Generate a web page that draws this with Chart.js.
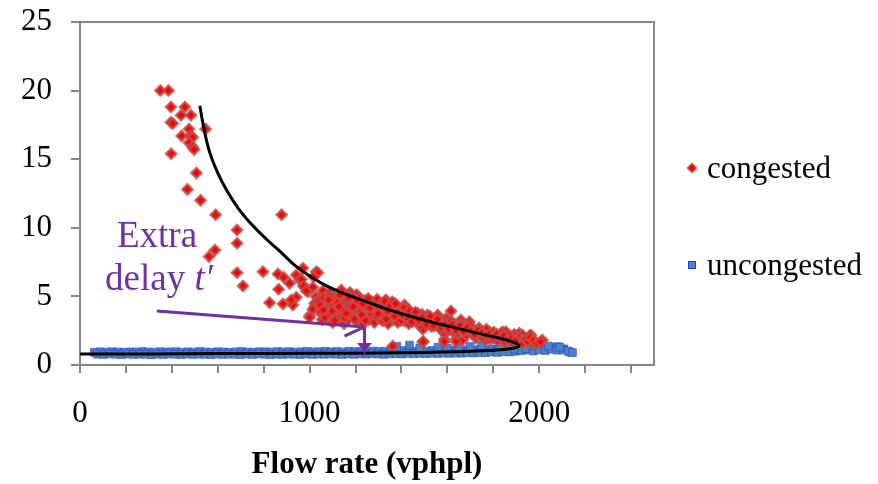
<!DOCTYPE html>
<html><head><meta charset="utf-8">
<script src="https://cdn.jsdelivr.net/npm/chart.js@4.4.1/dist/chart.umd.min.js"></script>
<style>html,body{margin:0;padding:0;background:#fff}#wrap{width:878px;height:484px;position:relative}</style>
</head><body><div id="wrap"><canvas id="c" width="878" height="484"></canvas></div>
<script>
// ---- data: [flow (vphpl), delay] ----
const seriesNames = ['congested', 'uncongested'];
const xTickLabels = ['0', '1000', '2000'];
const yTickValues = [0, 5, 10, 15, 20, 25];
const annotationText = ['Extra', 'delay ', 't\u2032'];

const congested = [
 [350,20.0],[385,20.0],[396,18.8],[457,18.8],[440,18.2],[483,18.2],[396,17.7],[404,17.6],[475,17.2],[547,17.2],
 [443,16.7],[481,16.7],[491,16.6],[475,16.2],[490,15.9],[497,15.7],[397,15.4],[507,14.0],[468,12.8],[525,12.0],
 [591,10.95],[878,10.95],[684,9.84],[684,8.87],[588,8.38],[562,7.9],[684,6.73],[797,6.8],[710,5.76],[862,6.63],
 [887,6.39],[913,5.95],[865,5.52],[971,7.05],[1029,6.8],[942,6.56],[957,6.2],[978,5.66],[993,5.34],[826,4.54],
 [884,4.45],[927,4.37],[942,4.93],[920,4.74],[1022,4.25],[1000,3.6],[1029,4.98],[1057,3.89],[1036,6.73],[1017,6.44],
 [964,6.25],[974,5.76],[1014,5.66],[986,5.42],[1058,5.42],[1087,5.27],[1138,5.47],[1177,5.27],[1207,5.1],[1043,4.86],
 [1101,4.98],[1022,4.5],[1051,4.13],[1014,4.06],[1000,3.47],[1051,3.72],[1297,4.61],[1333,4.74],[1370,4.45],[1413,4.37],
 [1261,4.37],[1362,1.38],[1174,5.23],[1203,5.1],[1471,3.77],[1558,3.64],[1616,3.94],[1659,3.28],[1696,3.16],[1493,2.6],
 [1587,1.87],[1638,1.87],[1754,2.43],[1841,2.43],[1913,2.31],[1957,2.11],[2014,1.82],[1493,1.7],[1391,3.77],[1514,3.64],
 [1594,3.4],[1572,2.92],[1609,2.79],[1667,2.67],[1587,2.31],[1630,2.31],[1783,2.43],[1855,2.43],[1891,2.24],[1927,2.19],
 [1964,2.19],[1725,1.95],[1768,1.82],[1797,1.95],[1840,1.82],[1899,1.82],[1935,1.7],[1971,1.58],[1667,1.82],[1638,1.7],
 [1587,1.7],[1496,1.7],
 [1040,4.6],[1048,3.9],[1055,3.3],[1062,4.9],[1070,4.2],[1078,3.6],[1085,5.0],[1092,4.4],[1100,3.1],[1105,3.8],
 [1112,4.7],[1118,4.1],[1125,3.4],[1132,5.1],[1138,4.5],[1145,3.7],[1150,3.0],[1156,4.0],[1162,4.8],[1168,3.3],
 [1175,4.3],[1180,3.6],[1186,5.0],[1192,4.6],[1198,3.9],[1204,3.2],[1210,4.4],[1216,4.9],[1222,3.5],[1228,4.1],
 [1234,3.0],[1240,4.7],[1246,3.8],[1252,4.3],[1258,3.3],[1264,4.0],[1270,4.6],[1276,3.6],[1282,3.1],[1288,4.2],
 [1294,4.8],[1300,3.4],[1306,3.9],[1312,4.5],[1318,3.2],[1324,4.1],[1330,3.7],[1336,4.4],[1342,3.0],[1348,3.5],
 [1354,4.0],[1360,4.6],[1366,3.3],[1372,3.8],[1378,4.2],[1384,3.1],[1390,3.6],[1396,4.0],[1402,3.4],[1408,3.9],
 [1414,3.2],[1420,3.7],[1426,4.1],[1432,3.0],[1438,3.5],[1444,3.8],[1450,3.3],[1458,3.6],[1466,3.1],[1474,3.4],
 [1482,2.9],[1490,3.7],[1498,3.2],[1506,3.5],[1514,3.0],[1522,3.3],[1530,2.8],[1538,3.1],[1546,3.4],[1554,2.9],
 [1562,3.2],[1570,2.6],[1578,3.0],[1586,2.7],[1594,3.1],[1602,2.5],[1610,2.9],[1618,3.2],[1626,2.6],[1634,2.9],
 [1642,2.3],[1650,2.7],[1658,3.0],[1666,2.4],[1674,2.8],[1682,2.2],[1690,2.6],[1698,2.9],[1706,2.3],[1714,2.5],
 [1722,2.1],[1730,2.4],[1738,2.7],[1746,2.2],[1754,2.0],[1762,2.3],[1770,2.6],[1778,2.1],[1786,1.9],[1794,2.2],
 [1802,2.4],[1810,2.0],[1818,1.8],[1826,2.1],[1834,2.3],[1842,1.9],[1850,1.7],[1858,2.0],[1866,2.2],[1874,1.8],
 [1882,1.6],[1890,1.9],[1898,2.1],[1906,1.7],[1914,2.0],[1922,1.8],[1930,1.6],[1940,1.9],[1950,1.7],[1960,2.0],
 [1975,1.8],[1990,1.6],[2005,1.7],
 [1046,4.35],[1066,3.45],[1083,4.75],[1097,3.95],[1109,3.25],[1121,4.55],[1141,4.05],[1153,3.45],[1171,4.95],[1184,4.15],
 [1195,3.35],[1207,4.65],[1219,3.85],[1231,4.45],[1243,3.25],[1255,4.85],[1267,3.75],[1279,4.35],[1291,3.55],[1303,4.15],
 [1315,3.65],[1327,4.65],[1339,3.85],[1351,4.35],[1363,3.55],[1375,4.45],[1387,3.85],[1399,3.25],[1411,4.15],[1423,3.45],
 [1435,3.95],[1447,3.15],[1461,3.85],[1477,3.25],[1493,3.45],[1509,2.95],[1525,3.55],[1541,2.85],[1557,3.35],[1575,2.75],
 [1590,2.95],[1606,2.65],[1622,2.95],[1638,2.55],[1655,2.85],[1671,2.45],[1687,2.75],[1703,2.45],[1719,2.25],[1735,2.55],
 [1751,2.35],[1767,2.15],[1783,2.25],[1799,2.05],[1815,2.25],[1831,1.95],[1847,2.15],[1863,1.85],[1879,1.95],[1895,1.75],
 [1128,4.25],[1160,3.75],[1190,4.25],[1226,3.65],[1262,4.15],[1298,3.75],[1334,3.35],[1370,3.55],[1404,3.65],[1060,4.0]
];

const uncongested = [
 [62,0.93],[88,0.96],[115,0.94],[140,0.97],[168,0.95],[193,0.92],[220,0.96],[246,0.94],[272,0.98],[298,0.95],
 [323,0.93],[350,0.97],[376,0.94],[392,0.95],[418,0.97],[444,0.93],[470,0.96],[497,0.94],[522,0.98],[548,0.95],
 [575,0.93],[600,0.97],[626,0.95],[652,0.92],[678,0.96],[704,0.98],[730,0.94],[756,0.93],[782,0.97],[808,0.96],
 [834,0.94],[860,0.98],[886,0.95],[912,0.97],[938,0.93],[964,0.96],[990,0.99],[1016,0.95],[1042,0.97],[1068,1.0],
 [1094,0.96],[1120,0.98],[1146,0.95],[1172,1.0],[1198,0.97],[1224,0.99],[1250,0.96],[1276,1.01],[1302,0.98],[1328,1.0],
 [1354,1.03],[1380,0.99],[1406,1.05],[1432,1.02],[1458,1.0],[1484,1.04],[1510,1.02],[1536,1.06],[1562,1.03],[1588,1.08],
 [1614,1.05],[1640,1.1],[1666,1.07],[1692,1.12],[1718,1.09],[1744,1.15],[1770,1.12],[1796,1.18],[1822,1.14],[1848,1.2],
 [1874,1.24],[1900,1.3],[1926,1.27],[1950,1.34],[1976,1.22],[2002,1.3],[2028,1.2],[2054,1.28],[2080,1.34],[2106,1.18],
 [2132,0.95],
 [75,0.79],[102,0.77],[128,0.81],[155,0.78],[181,0.76],[207,0.8],[233,0.77],[259,0.79],[285,0.78],[311,0.75],
 [337,0.79],[363,0.77],[385,0.8],[414,0.78],[440,0.76],[466,0.8],[492,0.77],[518,0.79],[544,0.78],[570,0.76],
 [596,0.8],[622,0.77],[648,0.79],[674,0.78],[700,0.76],[726,0.8],[752,0.77],[778,0.81],[804,0.78],[830,0.76],
 [856,0.79],[882,0.77],[908,0.8],[934,0.78],[960,0.76],[986,0.8],[1012,0.77],[1038,0.79],[1064,0.78],[1090,0.81],
 [1116,0.79],[1142,0.77],[1168,0.8],[1194,0.78],[1220,0.81],[1246,0.79],[1272,0.82],[1298,0.8],[1324,0.78],[1350,0.81],
 [1376,0.83],[1402,0.8],[1428,0.84],[1454,0.82],[1480,0.85],[1506,0.83],[1532,0.86],[1558,0.84],[1584,0.87],[1610,0.85],
 [1636,0.88],[1662,0.86],[1688,0.9],[1714,0.88],[1740,0.92],[1766,0.9],[1792,0.95],[1818,0.92],[1844,0.98],[1870,0.95],
 [1896,1.0],[1922,1.05],[1948,1.1],[1974,1.02],[2000,1.12],[2026,1.05],[2052,1.15],[2078,1.08],[2104,1.1],[2126,1.02],
 [2145,0.9],
 [1435,1.45],[1380,1.35],[1560,1.3],[1480,1.25],[1700,1.35],[1750,1.4],[1830,1.38],[1650,1.28],[1600,1.22],
 [1970,1.4],[2040,1.38],[2090,1.3],[1890,1.15],[1940,1.2]
];

// fitted delay curve (upper branch then lower branch)
const curveFlow  = [522,540,565,600,640,690,750,810,870,940,1000,1070,1150,1250,1350,1450,1550,1650,1750,1830,1880,1905,1913,1905,1880,1820,1750,1650,1500,1300,1000,600,300,0];
const curveDelay = [18.9,17.2,15.5,14.0,12.7,11.4,10.2,9.2,8.3,7.2,6.5,5.8,5.2,4.6,4.0,3.5,3.05,2.65,2.25,1.95,1.7,1.52,1.42,1.3,1.2,1.1,1.03,0.97,0.92,0.88,0.85,0.83,0.81,0.8];

// ---- styling ----
const GRAY = '#868686';
const PURPLE = '#7030A0';
const SERIF = '"Liberation Serif", "Times New Roman", serif';

const annotPlugin = {
  id: 'annot',
  afterDatasetsDraw(chart) {
    const {ctx, chartArea: ca, scales: {x, y}} = chart;
    const px = v => x.getPixelForValue(v), py = v => y.getPixelForValue(v);
    ctx.save();
    // plot-area border (top, right)
    ctx.strokeStyle = GRAY; ctx.lineWidth = 2;
    ctx.beginPath();
    ctx.moveTo(ca.left, ca.top); ctx.lineTo(ca.right, ca.top); ctx.lineTo(ca.right, ca.bottom);
    ctx.stroke();
    // purple arrows
    ctx.strokeStyle = PURPLE; ctx.fillStyle = PURPLE; ctx.lineWidth = 3; ctx.lineCap = 'butt';
    ctx.beginPath();
    ctx.moveTo(px(335), py(3.94)); ctx.lineTo(px(1239), py(2.77));
    ctx.moveTo(px(1152), py(2.11)); ctx.lineTo(px(1232), py(2.72));
    ctx.moveTo(px(1239), py(2.77)); ctx.lineTo(px(1239), py(1.5));
    ctx.stroke();
    ctx.beginPath();
    const ax = px(1239);
    ctx.moveTo(ax - 7.5, py(1.6)); ctx.lineTo(ax + 7.5, py(1.6)); ctx.lineTo(ax, py(0.95)); ctx.closePath();
    ctx.fill();
    ctx.lineWidth = 1.5;
    ctx.beginPath(); ctx.moveTo(ax, py(0.95)); ctx.lineTo(ax, py(0.6)); ctx.stroke();
    // annotation text
    ctx.textBaseline = 'alphabetic'; ctx.textAlign = 'left';
    ctx.font = '37px ' + SERIF;
    ctx.fillText(annotationText[0], px(161), py(8.6));
    const dx = px(109), dy = py(5.47);
    ctx.fillText(annotationText[1], dx, dy);
    const w = ctx.measureText(annotationText[1]).width;
    ctx.font = 'italic 37px ' + SERIF;
    ctx.fillText(annotationText[2], dx + w, dy);
    ctx.restore();
  },
  afterDraw(chart) {
    const {ctx, chartArea: ca} = chart;
    ctx.save();
    const mx = ca.right + 38, tx = ca.right + 53;
    // congested marker (diamond)
    ctx.fillStyle = '#FF0000'; ctx.strokeStyle = 'rgba(192,80,77,0.9)'; ctx.lineWidth = 1.5;
    ctx.beginPath();
    ctx.moveTo(mx, 163.5); ctx.lineTo(mx + 4.5, 168); ctx.lineTo(mx, 172.5); ctx.lineTo(mx - 4.5, 168); ctx.closePath();
    ctx.fill(); ctx.stroke();
    // uncongested marker (square)
    ctx.fillStyle = '#4F81BD'; ctx.strokeStyle = 'rgba(20,50,235,0.95)'; ctx.lineWidth = 1;
    ctx.fillRect(mx - 3.5, 261.5, 7, 7); ctx.strokeRect(mx - 3.5, 261.5, 7, 7);
    ctx.fillStyle = '#000'; ctx.font = '31px ' + SERIF; ctx.textBaseline = 'alphabetic'; ctx.textAlign = 'left';
    ctx.fillText(seriesNames[0], tx, 178);
    ctx.fillText(seriesNames[1], tx, 275);
    ctx.restore();
  }
};

new Chart(document.getElementById('c'), {
  type: 'scatter',
  data: {
    datasets: [
      {
        label: 'curve',
        data: curveFlow.map((f, i) => ({x: f, y: curveDelay[i]})),
        showLine: true, pointRadius: 0, borderColor: '#000', borderWidth: 3, tension: 0.4, order: 0
      },
      {
        label: seriesNames[0],
        data: congested.map(p => ({x: p[0], y: p[1]})),
        pointStyle: 'rectRot', pointRadius: 5, backgroundColor: '#FF0000',
        borderColor: 'rgba(190,78,74,0.8)', borderWidth: 2.5, order: 1
      },
      {
        label: seriesNames[1],
        data: uncongested.map(p => ({x: p[0], y: p[1]})),
        pointStyle: 'rect', pointRadius: 5.5, backgroundColor: '#4F81BD',
        borderColor: 'rgba(30,70,230,0.6)', borderWidth: 1, order: 2
      }
    ]
  },
  options: {
    responsive: false, animation: false, devicePixelRatio: 1,
    layout: {padding: {left: 0, right: 224, top: 22, bottom: 0}},
    plugins: {legend: {display: false}, tooltip: {enabled: false}},
    scales: {
      x: {
        type: 'linear', min: 0, max: 2500,
        afterFit: s => { s.height = 119; },
        border: {color: GRAY, width: 2},
        grid: {display: true, drawOnChartArea: false, drawTicks: true, tickLength: 8, color: GRAY, lineWidth: 2},
        ticks: {
          stepSize: 200, includeBounds: false, autoSkip: false, maxRotation: 0, padding: 22,
          color: '#000', font: {family: SERIF, size: 31},
          callback: v => (v % 1000 === 0 ? xTickLabels[v / 1000] : '')
        },
        title: {display: true, text: 'Flow rate (vphpl)', color: '#000',
          font: {family: SERIF, size: 31, weight: 'bold'}, padding: {top: 0, bottom: 0}}
      },
      y: {
        type: 'linear', min: 0, max: 25,
        afterFit: s => { s.width = 80; s.paddingTop = 0; s.paddingBottom = 0; },
        afterBuildTicks: s => { s.ticks = yTickValues.map(v => ({value: v})); },
        border: {color: GRAY, width: 2},
        grid: {display: true, drawOnChartArea: false, drawTicks: true, tickLength: 9, color: GRAY, lineWidth: 2},
        ticks: {padding: 19, color: '#000', font: {family: SERIF, size: 31}}
      }
    }
  },
  plugins: [annotPlugin]
});
</script>
</body></html>
